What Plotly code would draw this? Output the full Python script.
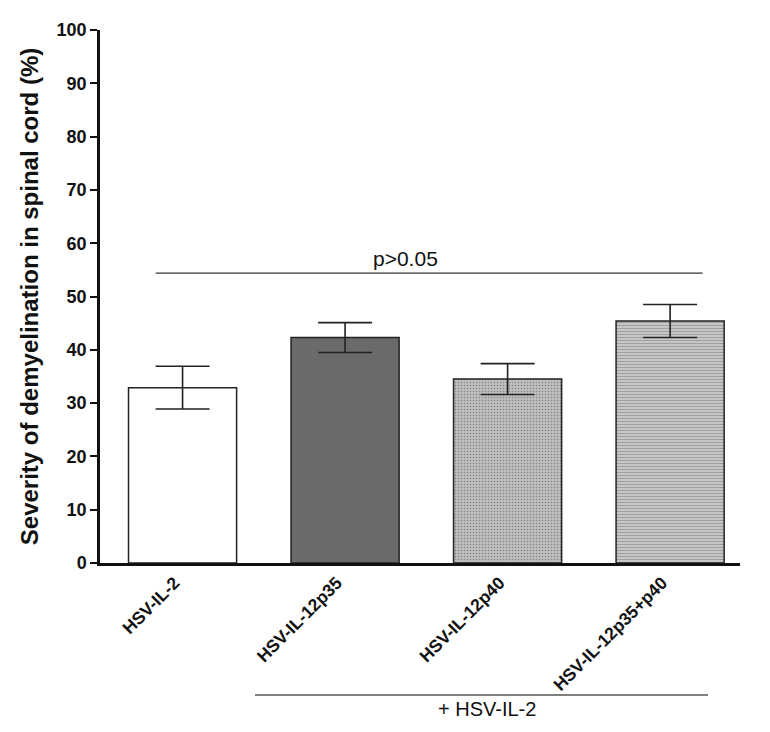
import plotly.graph_objects as go

categories = ["HSV-IL-2", "HSV-IL-12p35", "HSV-IL-12p40", "HSV-IL-12p35+p40"]
means = [32.9, 42.3, 34.5, 45.4]
sems = [4.0, 2.8, 2.9, 3.1]
y_ticks = [0, 10, 20, 30, 40, 50, 60, 70, 80, 90, 100]
sig_label = "p>0.05"
sig_level = 54.4
group_label = "+ HSV-IL-2"

fills = ["#ffffff", "#6a6a6a", "#bebebe", "#c6c6c6"]
patterns = ["", "", ".", "-"]

FONT = "Liberation Sans, Arial, sans-serif"

# page has an 8px body margin; compensate so the plot sits where the reference does
OFF = 8
PL, PT, PB, PR = 100, 22, 563, 740   # plot area in page pixels
W, H = 770 - 2 * OFF, 732 - 2 * OFF
plot_h = PB - PT
plot_w = PR - PL

fig = go.Figure()
fig.add_trace(go.Bar(
    x=categories, y=means,
    width=0.665,
    marker=dict(color=fills, line=dict(color="#222222", width=1.5),
                pattern=dict(shape=patterns, fgcolor="#ababab", size=3, solidity=0.2)),
    error_y=dict(type="data", array=sems, visible=True, color="#222222",
                 thickness=1.6, width=27),
    showlegend=False,
))

# significance line
fig.add_shape(type="line", xref="x", yref="y", x0=-0.165, x1=3.2,
              y0=sig_level, y1=sig_level, line=dict(color="#333333", width=1.2))
fig.add_annotation(x=1.37, y=sig_level, xref="x", yref="y", text=sig_label,
                   showarrow=False, yanchor="bottom", yshift=1,
                   font=dict(family=FONT, size=21, color="#111111"))

# group line under labels
fig.add_shape(type="line", xref="paper", yref="paper",
              x0=(255 - PL) / plot_w, x1=(708 - PL) / plot_w,
              y0=-(697 - PB) / plot_h, y1=-(697 - PB) / plot_h,
              line=dict(color="#555555", width=1.5))
fig.add_annotation(xref="paper", yref="paper", x=(487 - PL) / plot_w,
                   y=-(711 - PB) / plot_h, text=group_label, showarrow=False,
                   yanchor="middle",
                   font=dict(family=FONT, size=20, color="#111111"))

fig.update_layout(
    width=W, height=H,
    margin=dict(l=PL - OFF, r=W - (PR - OFF), t=PT - OFF, b=H - (PB - OFF)),
    paper_bgcolor="white", plot_bgcolor="white",
    font=dict(family=FONT, color="#111111"),
)
fig.update_xaxes(
    range=[-0.508, 3.43], showgrid=False, zeroline=False,
    showline=True, linecolor="#111111", linewidth=2.5,
    ticks="", tickangle=-45, ticklabelshift=-8, ticklabelstandoff=0,
    tickfont=dict(family=FONT, size=17.5, color="#111111", weight="bold"),
)
fig.update_yaxes(
    range=[0, 100], tickvals=y_ticks, showgrid=False, zeroline=False,
    showline=True, linecolor="#111111", linewidth=2.5,
    ticks="outside", ticklen=7, tickwidth=2, tickcolor="#111111",
    tickfont=dict(family=FONT, size=18, color="#111111", weight="bold"),
    title=dict(text="Severity of demyelination in spinal cord (%)",
               font=dict(family=FONT, size=24, color="#111111", weight="bold"),
               standoff=12),
)

fig.write_html("out.html")
